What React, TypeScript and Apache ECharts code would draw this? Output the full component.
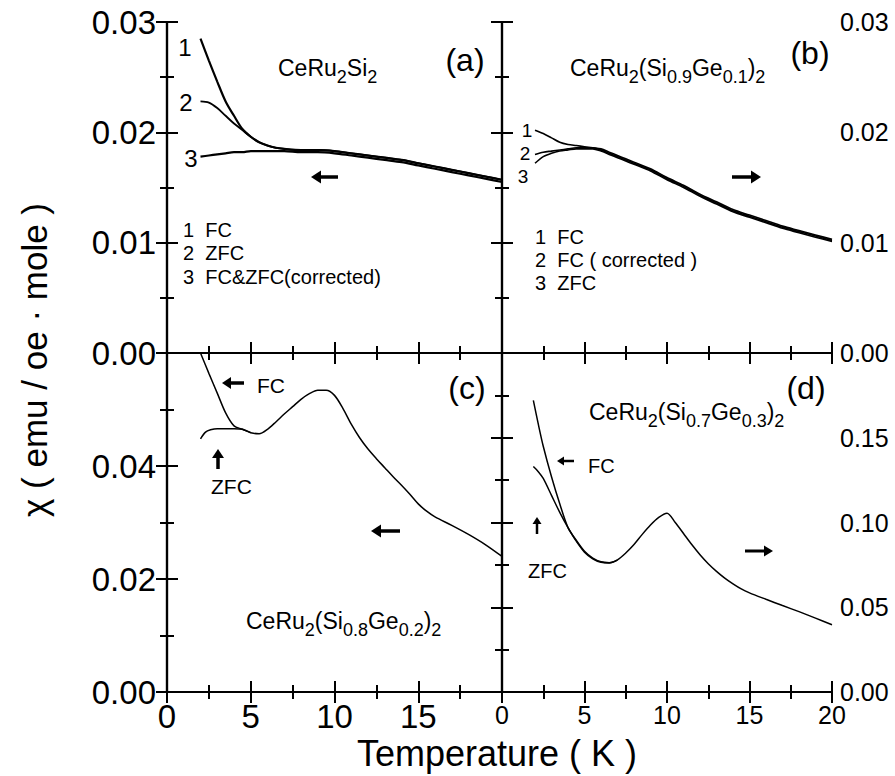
import React, { useEffect, useRef } from "react";
import * as echarts from "echarts";

const FONT = "'Liberation Sans', Arial, Helvetica, sans-serif";

// ---------- Panel (a) CeRu2Si2 ----------
const tA = [2, 2.5, 3, 3.5, 4, 4.5, 5, 5.5, 6, 6.5, 7, 8, 9, 10, 11, 12, 13, 14, 15, 16, 17, 18, 19, 20];
const aFC = [0.0285, 0.0265, 0.0246, 0.0228, 0.0215, 0.0203, 0.0196, 0.0191, 0.0188, 0.0186, 0.0185, 0.0184, 0.0184, 0.0183, 0.0181, 0.0179, 0.0177, 0.0175, 0.0172, 0.0169, 0.0166, 0.0163, 0.016, 0.0157];
const aZFC = [0.0228, 0.0227, 0.0222, 0.0215, 0.0208, 0.0202, 0.0196, 0.0191, 0.0188, 0.0186, 0.0185, 0.0184, 0.0184, 0.0183, 0.0181, 0.0179, 0.0177, 0.0175, 0.0172, 0.0169, 0.0166, 0.0163, 0.016, 0.0157];
const aCorr = [0.0178, 0.0179, 0.018, 0.0181, 0.0182, 0.0182, 0.0183, 0.0183, 0.0183, 0.0183, 0.0183, 0.0182, 0.0182, 0.0181, 0.0179, 0.0177, 0.0175, 0.0173, 0.017, 0.0167, 0.0164, 0.0161, 0.0158, 0.0155];

// ---------- Panel (b) CeRu2(Si0.9Ge0.1)2 ----------
const tB = [2, 2.5, 3, 3.5, 4, 4.5, 5, 5.5, 6, 6.5, 7, 7.5, 8, 9, 10, 11, 12, 13, 14, 15, 16, 17, 18, 19, 20];
const bFC = [0.0202, 0.0199, 0.0195, 0.0191, 0.0189, 0.0188, 0.0187, 0.0186, 0.0185, 0.0182, 0.0179, 0.0176, 0.0173, 0.0167, 0.0159, 0.0152, 0.0144, 0.0137, 0.013, 0.0125, 0.012, 0.0115, 0.0111, 0.0107, 0.0103];
const bCorr = [0.018, 0.0182, 0.0183, 0.0184, 0.0185, 0.0186, 0.0186, 0.0186, 0.0184, 0.0181, 0.0178, 0.0175, 0.0172, 0.0166, 0.0158, 0.0151, 0.0143, 0.0136, 0.0129, 0.0124, 0.0119, 0.0114, 0.011, 0.0106, 0.0102];
const bZFC = [0.0172, 0.0178, 0.0181, 0.0183, 0.0184, 0.0185, 0.0185, 0.0185, 0.0183, 0.018, 0.0177, 0.0174, 0.0171, 0.0165, 0.0157, 0.015, 0.0142, 0.0135, 0.0128, 0.0123, 0.0118, 0.0113, 0.0109, 0.0105, 0.0101];

// ---------- Panel (c) CeRu2(Si0.8Ge0.2)2 ----------
const tC = [2, 2.5, 3, 3.5, 4, 4.5, 5, 5.5, 6, 6.5, 7, 7.5, 8, 8.5, 9, 9.5, 10, 10.5, 11, 11.5, 12, 12.5, 13, 13.5, 14, 14.5, 15, 15.5, 16, 17, 18, 19, 20];
const cFC = [0.06, 0.0564, 0.0529, 0.0494, 0.0471, 0.0465, 0.0459, 0.0457, 0.0465, 0.0478, 0.0492, 0.0505, 0.0518, 0.0528, 0.0534, 0.0534, 0.0525, 0.0502, 0.0474, 0.045, 0.043, 0.0413, 0.0397, 0.0381, 0.0366, 0.035, 0.0333, 0.032, 0.031, 0.0295, 0.0279, 0.0261, 0.024];
const tCZ = [2, 2.3, 2.6, 3, 3.5, 4, 4.5, 5];
const cZFC = [0.0448, 0.046, 0.0464, 0.0466, 0.0466, 0.0466, 0.0465, 0.0459];

// ---------- Panel (d) CeRu2(Si0.7Ge0.3)2 ----------
const tD = [1.9, 2.2, 2.5, 3, 3.5, 4, 4.5, 5, 5.5, 6, 6.5, 7, 7.5, 8, 8.5, 9, 9.5, 10, 10.5, 11, 11.5, 12, 12.5, 13, 13.5, 14, 14.5, 15, 16, 17, 18, 19, 20];
const dFC = [0.172, 0.158, 0.145, 0.127, 0.111, 0.097, 0.0895, 0.083, 0.079, 0.0768, 0.0763, 0.078, 0.082, 0.087, 0.093, 0.0985, 0.103, 0.1055, 0.1, 0.0935, 0.087, 0.081, 0.0757, 0.0712, 0.0672, 0.0638, 0.0608, 0.0585, 0.0547, 0.051, 0.0474, 0.0436, 0.0397];
const tDZ = [1.9, 2.2, 2.5, 3, 3.5, 4, 4.5, 5, 5.5, 6, 6.5, 7];
const dZFC = [0.133, 0.13, 0.126, 0.116, 0.106, 0.097, 0.089, 0.0825, 0.0786, 0.0765, 0.0761, 0.0778];

// ---------- Axis ticks ----------
const xTicks = { min: 0, max: 20, interval: 5 };
const yTicksAB = { min: 0, max: 0.03, interval: 0.01 };
const yTicksC = { min: 0, max: 0.06, interval: 0.02 };
const yTicksD = { min: 0, max: 0.2, interval: 0.05 };

// ---------- Compound names: [text, isSubscript] ----------
const nameA: [string, boolean][] = [["CeRu", false], ["2", true], ["Si", false], ["2", true]];
const nameB: [string, boolean][] = [["CeRu", false], ["2", true], ["(Si", false], ["0.9", true], ["Ge", false], ["0.1", true], [")", false], ["2", true]];
const nameC: [string, boolean][] = [["CeRu", false], ["2", true], ["(Si", false], ["0.8", true], ["Ge", false], ["0.2", true], [")", false], ["2", true]];
const nameD: [string, boolean][] = [["CeRu", false], ["2", true], ["(Si", false], ["0.7", true], ["Ge", false], ["0.3", true], [")", false], ["2", true]];

const zip = (xs: number[], ys: number[]) => xs.map((x, i) => [x, ys[i]]);

const GRIDS = [
  { left: 167, top: 22, width: 335, height: 331 },
  { left: 502, top: 22, width: 330, height: 331 },
  { left: 167, top: 353, width: 335, height: 339 },
  { left: 502, top: 353, width: 330, height: 339 },
];

const lineStyleBlack = { color: "#000", width: 2.2 };
const tickStyle = { color: "#000", width: 2 };

function makeX(gridIndex: number, showLabel: boolean, fontSize: number, hide20: boolean, margin: number) {
  const common: any = {
    type: "value",
    gridIndex,
    ...xTicks,
    axisLine: { show: true, lineStyle: lineStyleBlack },
    axisTick: { show: true, inside: true, length: 11, lineStyle: tickStyle },
    minorTick: { show: true, splitNumber: 2, length: 7, lineStyle: tickStyle },
    splitLine: { show: false },
    minorSplitLine: { show: false },
  };
  return [
    {
      ...common,
      position: "bottom",
      axisLabel: {
        show: showLabel,
        fontSize,
        fontFamily: FONT,
        color: "#000",
        margin,
        formatter: (v: number) => (hide20 && v === 20 ? "" : String(v)),
      },
    },
    { ...common, position: "top", axisLabel: { show: false } },
  ];
}

function makeY(gridIndex: number, ticks: any, labelSide: "left" | "right", fontSize: number, hideMax: boolean) {
  const common: any = {
    type: "value",
    gridIndex,
    ...ticks,
    axisLine: { show: true, lineStyle: lineStyleBlack },
    axisTick: { show: true, inside: true, length: 11, lineStyle: tickStyle },
    minorTick: { show: true, splitNumber: 2, length: 7, lineStyle: tickStyle },
    splitLine: { show: false },
    minorSplitLine: { show: false },
  };
  const lbl = {
    show: true,
    fontSize,
    fontFamily: FONT,
    color: "#000",
    margin: labelSide === "left" ? 11 : 8,
    formatter: (v: number) => (hideMax && Math.abs(v - ticks.max) < 1e-9 ? "" : v.toFixed(2)),
  };
  return [
    { ...common, position: "left", axisLabel: labelSide === "left" ? lbl : { show: false } },
    { ...common, position: "right", axisLabel: labelSide === "right" ? lbl : { show: false } },
  ];
}

function line(name: string, grid: number, data: number[][], width: number) {
  return {
    name,
    type: "line",
    xAxisIndex: grid * 2,
    yAxisIndex: grid * 2,
    data,
    showSymbol: false,
    symbol: "none",
    smooth: 0.3,
    clip: true,
    lineStyle: { color: "#000", width },
    itemStyle: { color: "#000" },
  };
}

function txt(x: number, y: number, text: string, fontSize: number, align = "left", extra: any = {}) {
  return {
    type: "text",
    x,
    y,
    silent: true,
    ...extra,
    style: { text, fontSize, fontFamily: FONT, fill: "#000", align, verticalAlign: "middle" },
  };
}

function arrow(x1: number, y1: number, x2: number, y2: number, w: number, head: number, hw: number) {
  const len = Math.hypot(x2 - x1, y2 - y1);
  const dx = (x2 - x1) / len;
  const dy = (y2 - y1) / len;
  const bx = x2 - dx * head;
  const by = y2 - dy * head;
  const px = -dy;
  const py = dx;
  return {
    type: "group",
    silent: true,
    children: [
      { type: "line", shape: { x1, y1, x2: bx + dx, y2: by + dy }, style: { stroke: "#000", lineWidth: w } },
      {
        type: "polygon",
        shape: { points: [[x2, y2], [bx + px * hw, by + py * hw], [bx - px * hw, by - py * hw]] },
        style: { fill: "#000" },
      },
    ],
  };
}

let measureCtx: CanvasRenderingContext2D | null = null;
function measure(text: string, size: number) {
  if (!measureCtx) measureCtx = document.createElement("canvas").getContext("2d");
  if (!measureCtx) return text.length * size * 0.55;
  measureCtx.font = `${size}px ${FONT}`;
  return measureCtx.measureText(text).width;
}

// chemical formula with subscripts, x = left edge, y = bottom of the main text
function compound(x: number, y: number, parts: [string, boolean][]) {
  const MAIN = 23;
  const SUB = 18;
  const DROP = 7;
  let cx = x;
  const children: any[] = [];
  for (const [t, sub] of parts) {
    const size = sub ? SUB : MAIN;
    children.push({
      type: "text",
      x: cx,
      y: sub ? y + DROP : y,
      silent: true,
      style: { text: t, fontSize: size, fontFamily: FONT, fill: "#000", align: "left", verticalAlign: "bottom" },
    });
    cx += measure(t, size);
  }
  return { type: "group", silent: true, children };
}

export default function App() {
  const ref = useRef<HTMLDivElement>(null);
  useEffect(() => {
    if (!ref.current) return;
    const chart = echarts.init(ref.current, null, { renderer: "svg" });
    const option: any = {
      animation: false,
      backgroundColor: "#fff",
      grid: GRIDS.map((g) => ({ ...g, show: false, containLabel: false, outerBoundsMode: "none" })),
      xAxis: [
        ...makeX(0, false, 33, false, 10),
        ...makeX(1, false, 25, false, 10),
        ...makeX(2, true, 33, true, 8),
        ...makeX(3, true, 25, false, 10),
      ],
      yAxis: [
        ...makeY(0, yTicksAB, "left", 33, false),
        ...makeY(1, yTicksAB, "right", 25, false),
        ...makeY(2, yTicksC, "left", 33, true),
        ...makeY(3, yTicksD, "right", 25, true),
      ],
      series: [
        line("(a) FC", 0, zip(tA, aFC), 2.2),
        line("(a) ZFC", 0, zip(tA, aZFC), 1.8),
        line("(a) FC&ZFC corrected", 0, zip(tA, aCorr), 2.2),
        line("(b) FC", 1, zip(tB, bFC), 1.6),
        line("(b) FC corrected", 1, zip(tB, bCorr), 1.6),
        line("(b) ZFC", 1, zip(tB, bZFC), 1.6),
        line("(c) FC", 2, zip(tC, cFC), 1.5),
        line("(c) ZFC", 2, zip(tCZ, cZFC), 1.5),
        line("(d) FC", 3, zip(tD, dFC), 1.5),
        line("(d) ZFC", 3, zip(tDZ, dZFC), 1.5),
      ],
      graphic: [
        // axis titles
        txt(34, 360, "χ ( emu / oe · mole )", 35, "center", { rotation: Math.PI / 2 }),
        txt(497, 753, "Temperature ( K )", 36, "center"),
        // panel letters
        txt(465, 60, "(a)", 32, "center"),
        txt(810, 53, "(b)", 32, "center"),
        txt(467, 388, "(c)", 32, "center"),
        txt(806, 388, "(d)", 32, "center"),
        // compounds (bottom of main text)
        compound(278, 79, nameA),
        compound(570, 79, nameB),
        compound(246, 632, nameC),
        compound(589, 423, nameD),
        // (a) curve numbers and legend
        txt(185, 47, "1", 24, "center"),
        txt(186, 102, "2", 24, "center"),
        txt(191, 158, "3", 24, "center"),
        txt(183, 230, "1  FC", 20),
        txt(183, 253, "2  ZFC", 20),
        txt(183, 277, "3  FC&ZFC(corrected)", 20),
        // (b) curve numbers and legend
        txt(527, 130, "1", 19, "center"),
        txt(525, 153, "2", 19, "center"),
        txt(523, 176, "3", 19, "center"),
        txt(535, 237, "1  FC", 20),
        txt(535, 260, "2  FC ( corrected )", 20),
        txt(535, 283, "3  ZFC", 20),
        // (c) labels
        txt(257, 385, "FC", 21),
        txt(211, 486, "ZFC", 21),
        // (d) labels
        txt(588, 466, "FC", 20),
        txt(528, 571, "ZFC", 20),
        // arrows
        arrow(338, 177, 311, 177, 3.5, 10, 6.5),
        arrow(732, 177, 761, 177, 3.5, 10, 6.5),
        arrow(400, 531, 371, 531, 3.5, 10, 6.5),
        arrow(244, 383, 222, 383, 3.5, 9, 6),
        arrow(218, 469, 218, 449, 3.5, 9, 6),
        arrow(745, 551, 773, 551, 3, 9, 5.5),
        arrow(574, 461, 557, 461, 2.5, 7, 4.5),
        arrow(537, 534, 537, 517, 2.5, 7, 4.5),
      ],
    };
    chart.setOption(option);
    return () => chart.dispose();
  }, []);
  return (
    <div
      ref={ref}
      style={{ position: "fixed", left: 0, top: 0, width: 895, height: 776, background: "#fff" }}
    />
  );
}
